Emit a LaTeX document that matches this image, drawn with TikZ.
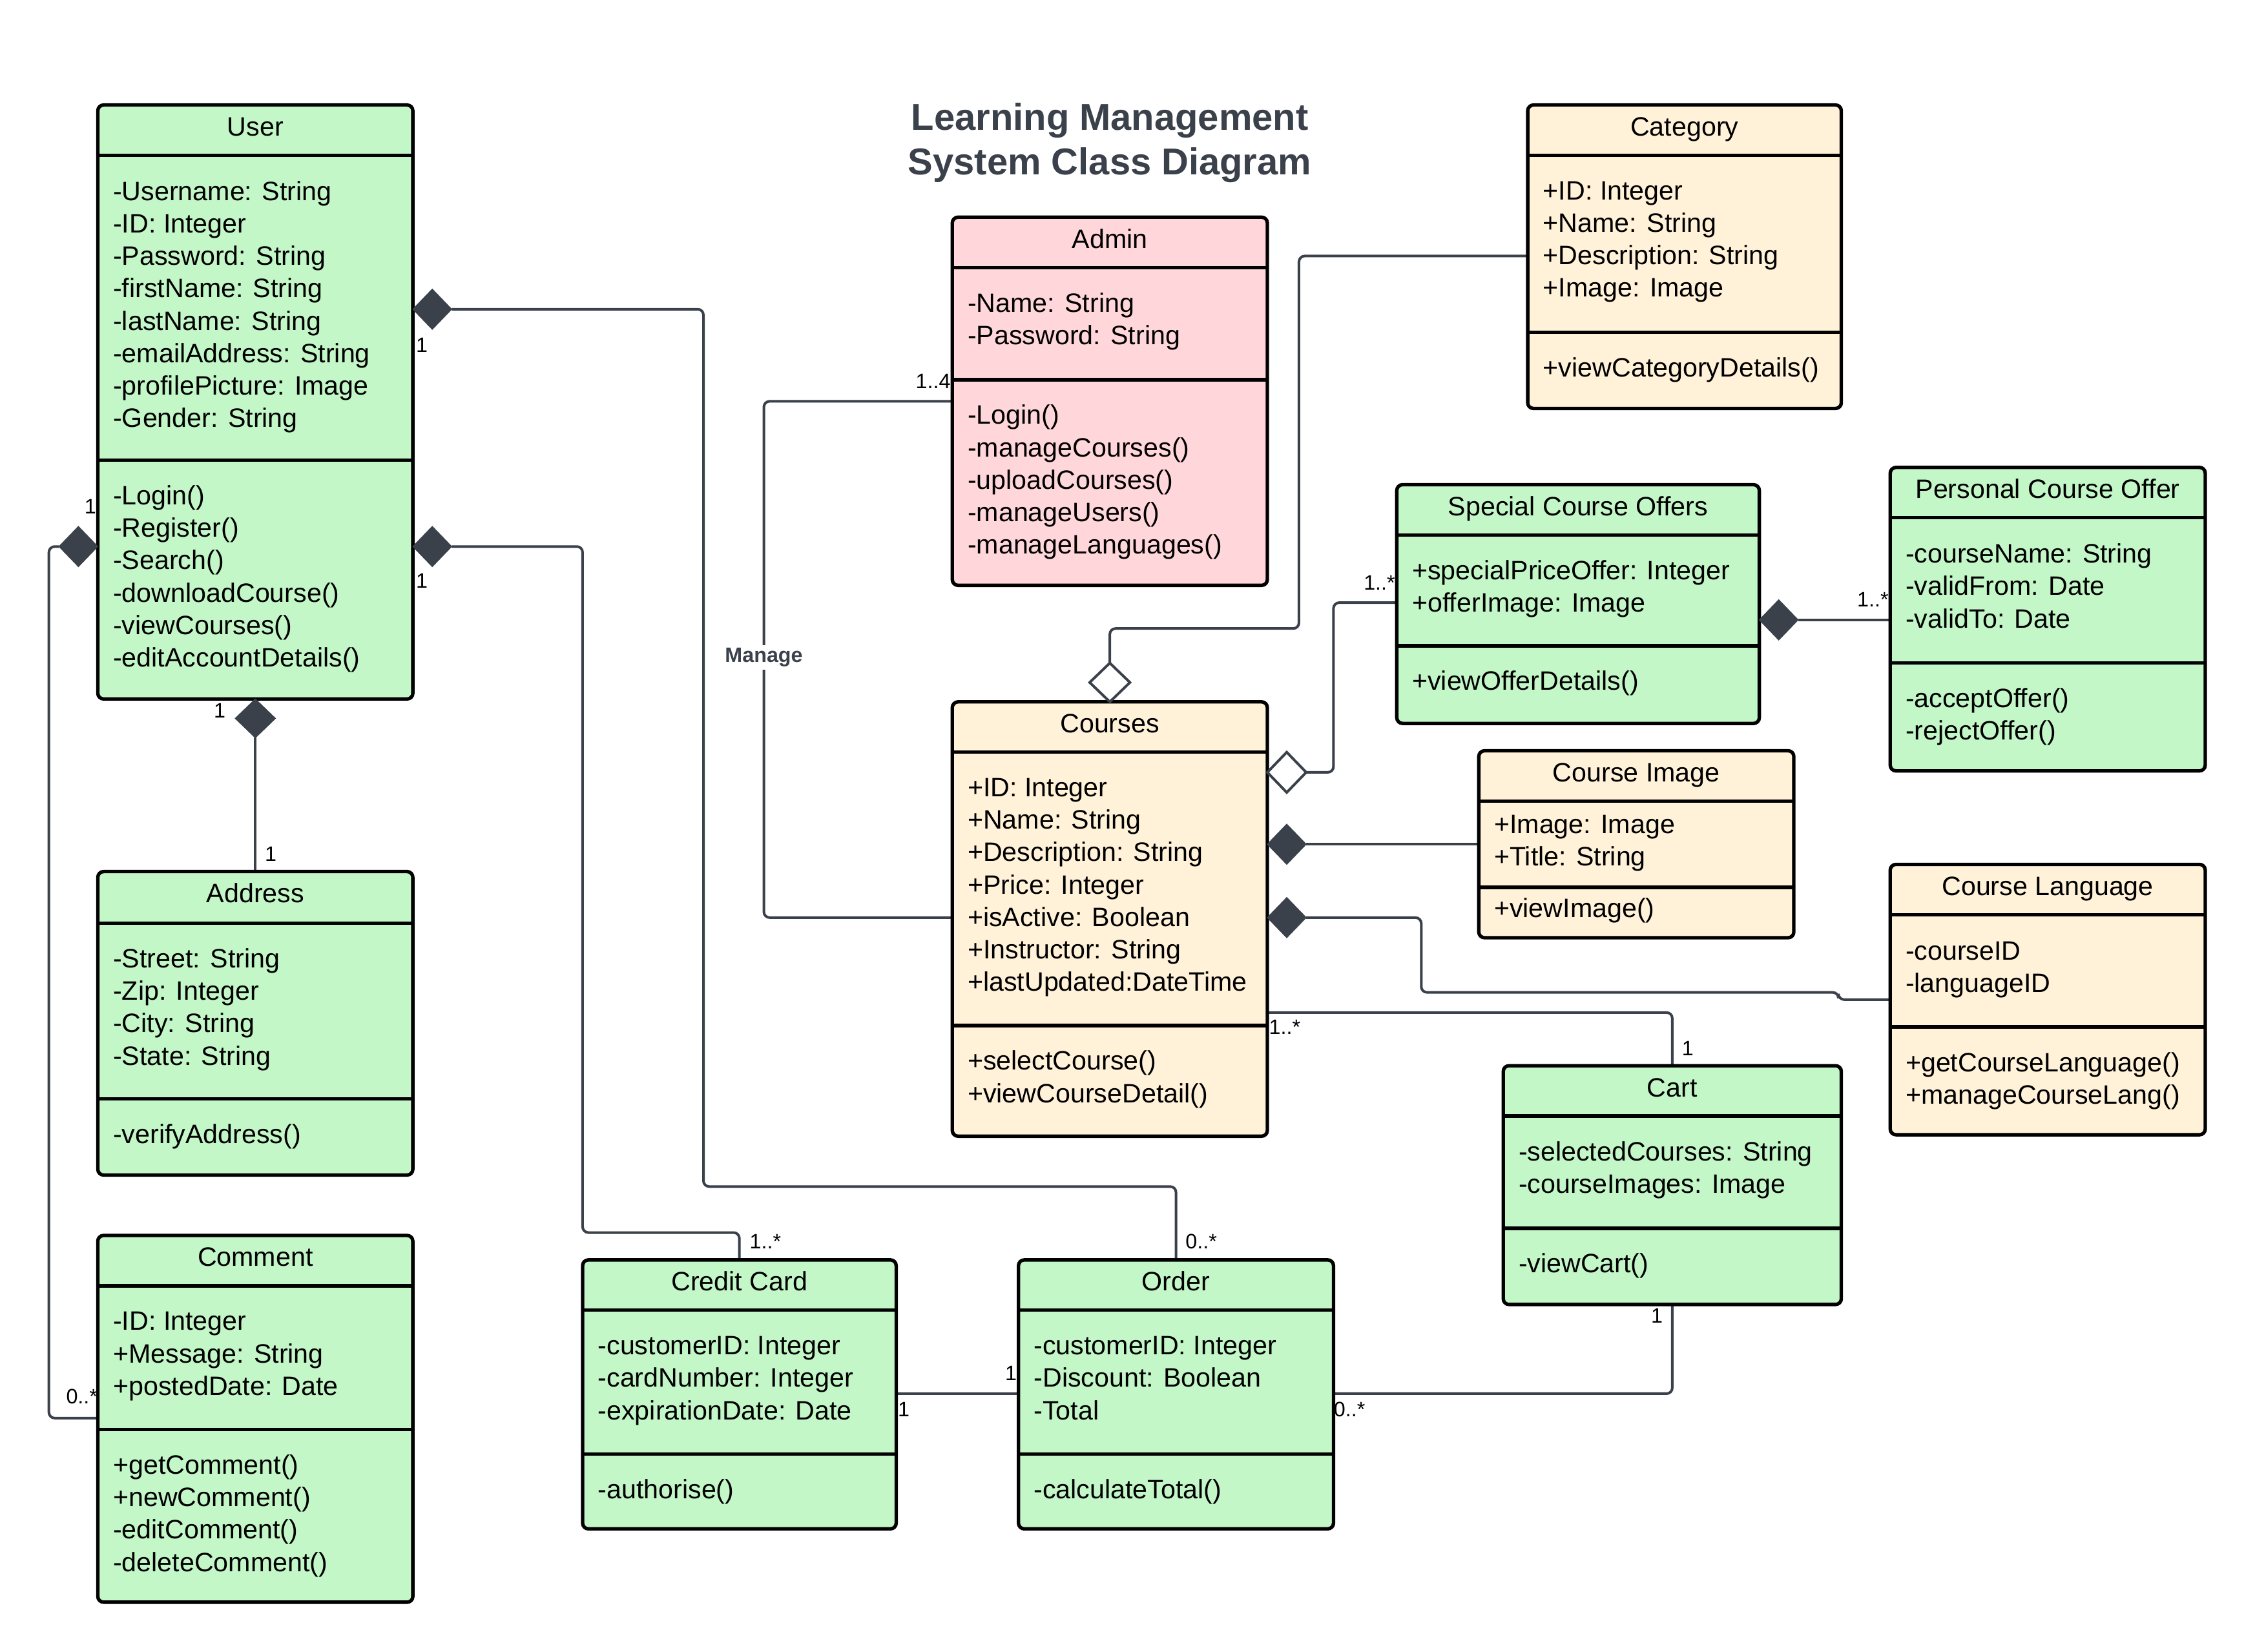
\documentclass[tikz,border=0pt]{standalone}
\usepackage{fontspec}
\setmainfont{Liberation Sans}
\usetikzlibrary{shapes.geometric,backgrounds}
\definecolor{cgreen}{HTML}{C3F7C8}
\definecolor{ccream}{HTML}{FFF2D9}
\definecolor{cpink}{HTML}{FFD7DA}
\definecolor{cline}{HTML}{3A414A}
\tikzset{
 clsbox/.style={draw=black, line width=2.4pt, rounded corners=4pt, inner sep=0pt, outer sep=0pt},
 sepline/.style={draw=black, line width=2.4pt},
 clstitle/.style={anchor=base, inner sep=0pt, font=\fontsize{18.5}{22.5}\selectfont},
 attr/.style={anchor=base west, inner sep=0pt, font=\fontsize{18.5}{22.5}\selectfont},
 conn/.style={draw=cline, line width=1.8pt, rounded corners=4pt},
 fdiam/.style={diamond, fill=cline, draw=cline, line width=0.5pt, inner sep=0pt, outer sep=0pt, minimum width=27pt, minimum height=28pt},
 hdiam/.style={diamond, fill=white, draw=cline, line width=1.8pt, inner sep=0pt, outer sep=0pt, minimum width=27pt, minimum height=28pt},
 vdiam/.style={minimum width=28pt, minimum height=27pt},
 mult/.style={inner sep=0pt, font=\fontsize{14.5}{16}\selectfont},
 managelbl/.style={fill=white, inner sep=2pt, text=cline, font=\bfseries\fontsize{14.5}{16}\selectfont},
 dtitle/.style={anchor=base, inner sep=0pt, text=cline, font=\bfseries\fontsize{26}{30}\selectfont},
}
\newcommand\umlclass[9]{%
 \node[clsbox, fill=#6, minimum width={#4-#2}, minimum height={#5-#3}] (#1) at ({(#2+#4)/2},{(#3+#5)/2}) {};
 \draw[sepline] (#2,#7) -- (#4,#7);
 \draw[sepline] (#2,#8) -- (#4,#8);
 \node[clstitle] (#1-title) at ({(#2+#4)/2},{#3+21.5}) {#9};
}
\newcommand\umllines[4]{%
 \foreach \t [count=\i] in {#4} {\node[attr] (#1-\i) at (#2, {#3+(\i-1)*22.5}) {\t};}
}
\begin{document}
\begin{tikzpicture}[x=1pt,y=-1pt]
\begin{pgfonlayer}{background}
\path[use as bounding box, fill=white] (0,0) rectangle (1567.6,1148.6);
\end{pgfonlayer}

% title
\node[dtitle] (title1) at (771.5,90.6) {Learning Management};
\node[dtitle] (title2) at (771.5,121.3) {System Class Diagram};

% User
\umlclass{user}{68}{73}{287}{486}{cgreen}{108}{320}{User}
\umllines{user-a}{78.5}{139.5}{-Username: String,-ID: Integer,-Password: String,-firstName: String,-lastName: String,-emailAddress: String,-profilePicture: Image,-Gender: String}
\umllines{user-m}{78.5}{351}{-Login(),-Register(),-Search(),-downloadCourse(),-viewCourses(),-editAccountDetails()}

% Address
\umlclass{address}{68}{606}{287}{817}{cgreen}{642}{764}{Address}
\umllines{address-a}{78.5}{673}{-Street: String,-Zip: Integer,-City: String,-State: String}
\umllines{address-m}{78.5}{795}{-verifyAddress()}

% Comment
\umlclass{comment}{68}{859}{287}{1114}{cgreen}{894}{994}{Comment}
\umllines{comment-a}{78.5}{925}{-ID: Integer,+Message: String,+postedDate: Date}
\umllines{comment-m}{78.5}{1025}{+getComment(),+newComment(),-editComment(),-deleteComment()}

% Admin
\umlclass{admin}{662}{151}{881}{407}{cpink}{186}{264}{Admin}
\umllines{admin-a}{672.5}{217}{-Name: String,-Password: String}
\umllines{admin-m}{672.5}{295}{-Login(),-manageCourses(),-uploadCourses(),-manageUsers(),-manageLanguages()}

% Courses
\umlclass{courses}{662}{488}{881}{790}{ccream}{523}{713}{Courses}
\umllines{courses-a}{672.5}{554}{+ID: Integer,+Name: String,+Description: String,+Price: Integer,+isActive: Boolean,+Instructor: String,+lastUpdated:DateTime}
\umllines{courses-m}{672.5}{744}{+selectCourse(),+viewCourseDetail()}

% Category
\umlclass{category}{1062}{73}{1280}{284}{ccream}{108}{231}{Category}
\umllines{category-a}{1072.5}{139}{+ID: Integer,+Name: String,+Description: String,+Image: Image}
\umllines{category-m}{1072.5}{262}{+viewCategoryDetails()}

% Special Course Offers
\umlclass{sco}{971}{337}{1223}{503}{cgreen}{372}{449}{Special Course Offers}
\umllines{sco-a}{981.5}{403}{+specialPriceOffer: Integer,+offerImage: Image}
\umllines{sco-m}{981.5}{480}{+viewOfferDetails()}

% Personal Course Offer
\umlclass{pco}{1314}{325}{1533}{536}{cgreen}{360}{461}{Personal Course Offer}
\umllines{pco-a}{1324.5}{391.5}{-courseName: String,-validFrom: Date,-validTo: Date}
\umllines{pco-m}{1324.5}{492}{-acceptOffer(),-rejectOffer()}

% Course Image
\umlclass{cimg}{1028}{522}{1247}{652}{ccream}{557}{617}{Course Image}
\umllines{cimg-a}{1038.5}{579.5}{+Image: Image,+Title: String}
\umllines{cimg-m}{1038.5}{638}{+viewImage()}

% Course Language
\umlclass{clang}{1314}{601}{1533}{789}{ccream}{636}{714}{Course Language}
\umllines{clang-a}{1324.5}{667.5}{-courseID,-languageID}
\umllines{clang-m}{1324.5}{745}{+getCourseLanguage(),+manageCourseLang()}

% Cart
\umlclass{cart}{1045}{741}{1280}{907}{cgreen}{776}{854}{Cart}
\umllines{cart-a}{1055.5}{807}{-selectedCourses: String,-courseImages: Image}
\umllines{cart-m}{1055.5}{885}{-viewCart()}

% Credit Card
\umlclass{cc}{405}{876}{623}{1063}{cgreen}{911}{1011}{Credit Card}
\umllines{cc-a}{415.5}{942}{-customerID: Integer,-cardNumber: Integer,-expirationDate: Date}
\umllines{cc-m}{415.5}{1042}{-authorise()}

% Order
\umlclass{order}{708}{876}{927}{1063}{cgreen}{911}{1011}{Order}
\umllines{order-a}{718.5}{942}{-customerID: Integer,-Discount: Boolean,-Total}
\umllines{order-m}{718.5}{1042}{-calculateTotal()}

% diamonds
\node[fdiam, anchor=west] (d-uo) at (user.east |- 0,215) {};
\node[fdiam, anchor=west] (d-uc) at (user.east |- 0,380) {};
\node[fdiam, vdiam, anchor=north] (d-ua) at (user.south) {};
\node[fdiam, anchor=east] (d-ucm) at (user.west |- 0,380) {};
\node[hdiam, vdiam, anchor=south] (d-cat) at (courses.north) {};
\node[hdiam, anchor=west] (d-sco) at (courses.east |- 0,537) {};
\node[fdiam, anchor=west] (d-pco) at (sco.east |- 0,431) {};
\node[fdiam, anchor=west] (d-img) at (courses.east |- 0,587) {};
\node[fdiam, anchor=west] (d-lang) at (courses.east |- 0,638) {};

% connectors
\begin{pgfonlayer}{background}
\draw[conn] (d-uo.east) -| (489,825) -| (order.north);
\draw[conn] (d-uc.east) -| (405,857) -| (cc.north);
\draw[conn] (d-ua.south) -- (address.north);
\draw[conn] (d-ucm.west) -| (34,986) -- (comment.west |- 0,986);
\draw[conn] (admin.west |- 0,279) -| (531,638) -- (courses.west |- 0,638);
\draw[conn] (category.west |- 0,178) -| (903,437) -| (d-cat.north);
\draw[conn] (sco.west |- 0,419) -| (927,537) -- (d-sco.east);
\draw[conn] (pco.west |- 0,431) -- (d-pco.east);
\draw[conn] (cimg.west |- 0,587) -- (d-img.east);
\draw[conn] (clang.west |- 0,695) -- (1278,695) -- (1278,690) -- (988,690) -- (988,638) -- (d-lang.east);
\draw[conn] (courses.east |- 0,704) -| (cart.north);
\draw[conn] (cart.south) |- (order.east |- 0,969);
\draw[conn] (cc.east |- 0,969) -- (order.west |- 0,969);
\end{pgfonlayer}

\node[managelbl] (manage) at (531,457) {Manage};

% multiplicities
\node[mult, anchor=west] (m1) at (289,240) {1};
\node[mult, anchor=west] (m2) at (289,404) {1};
\node[mult, anchor=east] (m3) at (157,494) {1};
\node[mult, anchor=west] (m4) at (184,594) {1};
\node[mult, anchor=east] (m5) at (67,352) {1};
\node[mult, anchor=east] (m6) at (68,971) {0..*};
\node[mult, anchor=east] (m7) at (661,265) {1..4};
\node[mult, anchor=east] (m8) at (970,405) {1..*};
\node[mult, anchor=east] (m9) at (1313,417) {1..*};
\node[mult, anchor=west] (m10) at (882,714) {1..*};
\node[mult, anchor=west] (m11) at (1169,729) {1};
\node[mult, anchor=east] (m12) at (1156,915) {1};
\node[mult, anchor=west] (m13) at (927,980) {0..*};
\node[mult, anchor=west] (m14) at (624,980) {1};
\node[mult, anchor=east] (m15) at (707,955) {1};
\node[mult, anchor=west] (m16) at (521,863) {1..*};
\node[mult, anchor=west] (m17) at (824,863) {0..*};
\end{tikzpicture}
\end{document}
